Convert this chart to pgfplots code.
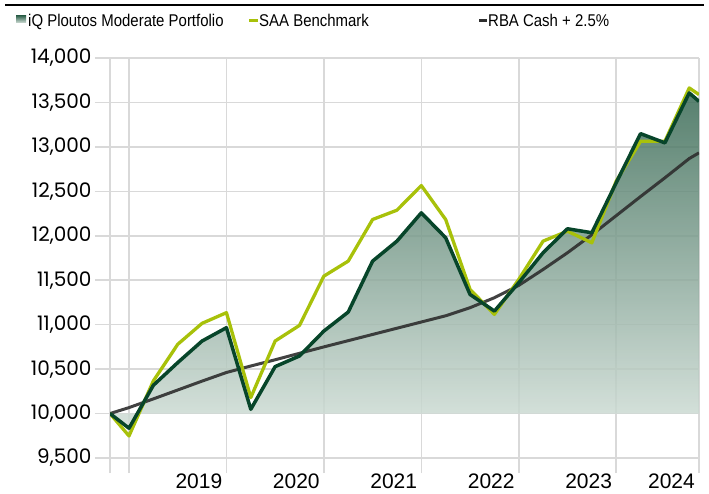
\documentclass[border=0pt]{standalone}
\usepackage{fontspec}
\usepackage{pgfplots}
\pgfplotsset{compat=1.18}
\setmainfont{Liberation Sans}
\newfontfamily\tickfont{Poppins}
\newfontfamily\legfont[FakeStretch=0.88]{Liberation Sans}
\definecolor{port}{HTML}{07452A}
\definecolor{saa}{HTML}{A8C10A}
\definecolor{cash}{HTML}{2E2E2E}
\definecolor{filltop}{HTML}{3A6A55}
\definecolor{fillbot}{HTML}{D2DFD8}
\definecolor{gridc}{HTML}{D9D9D9}
\begin{document}
\begin{tikzpicture}[x=1pt,y=1pt]
\begin{axis}[
  at={(110pt,35pt)}, anchor=south west,
  scale only axis, width=589pt, height=400pt,
  xmin=-0.78, xmax=23.4, ymin=9500, ymax=14000,
  xtick={-0.78,0,4,8,12,16,20,23.4},
  xticklabels={,,2019,2020,2021,2022,2023,2024},
  ytick={9500,10000,...,14000},
  grid=major, major grid style={gridc, line width=1.6pt},
  axis line style={draw=none},
  tick align=outside, major tick length=15pt,
  tick style={gridc, line width=1.6pt},
  xtick pos=left, ytick pos=left,
  scaled y ticks=false,
  /pgf/number format/1000 sep={,},
  /pgf/number format/assume math mode=true,
  yticklabel style={font=\tickfont\fontsize{20}{20}\selectfont, anchor=east},
  xticklabel style={font=\fontsize{21}{21}\selectfont, anchor=north east, inner sep=0pt, xshift=-4pt, yshift=-1pt},
  line join=round,
]
% Portfolio fill
\addplot[draw=none, top color=filltop, bottom color=fillbot, fill opacity=0.85] coordinates {
(-0.78,10000) (0,9835) (1,10318) (2,10573) (3,10816) (4,10966) (5,10048)
(6,10528) (7,10648) (8,10928) (9,11142) (10,11715) (11,11940) (12,12258)
(13,11978) (14,11340) (15,11153) (16,11472) (17,11809) (18,12079) (19,12034)
(20,12596) (21,13149) (22,13045) (23,13607) (23.4,13512) (23.4,10000)} -- cycle;
% RBA Cash + 2.5%
\addplot[cash, line width=3pt, opacity=0.9] coordinates {
(-0.78,10000) (0,10067) (1,10165) (2,10265) (3,10365) (4,10462) (5,10535)
(6,10605) (7,10678) (8,10750) (9,10820) (10,10890) (11,10960) (12,11030)
(13,11100) (14,11191) (15,11303) (16,11442) (17,11621) (18,11809) (19,12011)
(20,12226) (21,12441) (22,12652) (23,12869) (23.4,12933)};
% SAA Benchmark
\addplot[saa, line width=3.3pt] coordinates {
(-0.78,10000) (0,9748) (1,10367) (2,10779) (3,11015) (4,11135) (5,10180)
(6,10816) (7,10992) (8,11546) (9,11715) (10,12183) (11,12288) (12,12565)
(13,12183) (14,11397) (15,11116) (16,11509) (17,11940) (18,12052) (19,11921)
(20,12614) (21,13063) (22,13063) (23,13663) (23.4,13588)};
% Portfolio line
\addplot[port, line width=3.5pt] coordinates {
(-0.78,10000) (0,9835) (1,10318) (2,10573) (3,10816) (4,10966) (5,10048)
(6,10528) (7,10648) (8,10928) (9,11142) (10,11715) (11,11940) (12,12258)
(13,11978) (14,11340) (15,11153) (16,11472) (17,11809) (18,12079) (19,12034)
(20,12596) (21,13149) (22,13045) (23,13607) (23.4,13512)};
\end{axis}
% top rule and legend
\draw[line width=2.5pt, black] (5,488) -- (704,488);
\shade[top color=filltop, bottom color=fillbot] (16,470) rectangle (26,477);
\node[anchor=base west, inner sep=0pt] at (28,466.5) {\legfont\fontsize{17}{17}\selectfont iQ Ploutos Moderate Portfolio};
\fill[saa] (249,470.5) rectangle (258,473.5);
\node[anchor=base west, inner sep=0pt] at (259,466.5) {\legfont\fontsize{17}{17}\selectfont SAA Benchmark};
\fill[cash] (479,470.5) rectangle (487,473.5);
\node[anchor=base west, inner sep=0pt] at (488,466.5) {\legfont\fontsize{17}{17}\selectfont RBA Cash + 2.5\%};
\pgfresetboundingbox
\path (0,0) rectangle (709,493);
\end{tikzpicture}
\end{document}
